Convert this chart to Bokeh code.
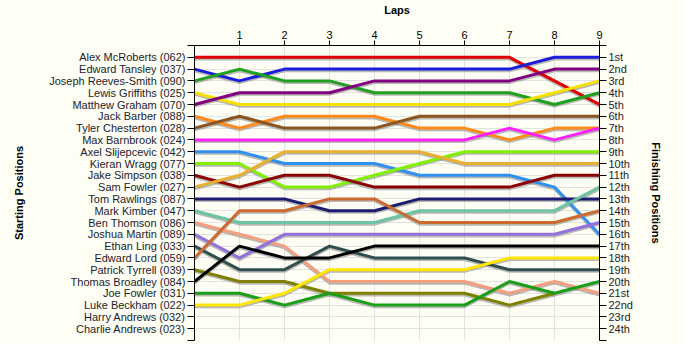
from bokeh.plotting import figure
from bokeh.models import Range1d, LinearAxis, FixedTicker
from bokeh.embed import file_html
from bokeh.resources import INLINE

laps = [0, 1, 2, 3, 4, 5, 6, 7, 8, 9]

drivers = [
    "Alex McRoberts (062)", "Edward Tansley (037)", "Joseph Reeves-Smith (090)",
    "Lewis Griffiths (025)", "Matthew Graham (070)", "Jack Barber (088)",
    "Tyler Chesterton (028)", "Max Barnbrook (024)", "Axel Slijepcevic (042)",
    "Kieran Wragg (077)", "Jake Simpson (038)", "Sam Fowler (027)",
    "Tom Rawlings (087)", "Mark Kimber (047)", "Ben Thomson (086)",
    "Joshua Martin (089)", "Ethan Ling (033)", "Edward Lord (059)",
    "Patrick Tyrrell (039)", "Thomas Broadley (084)", "Joe Fowler (031)",
    "Luke Beckham (022)", "Harry Andrews (032)", "Charlie Andrews (023)",
]

finish_labels = ["1st", "2nd", "3rd", "4th", "5th", "6th", "7th", "8th", "9th", "10th",
                 "11th", "12th", "13th", "14th", "15th", "16th", "17th", "18th", "19th",
                 "20th", "21st", "22nd", "23rd", "24th"]

# positions by lap (lap 0 = start)
pos_mcroberts = [1, 1, 1, 1, 1, 1, 1, 1, 3, 5]
pos_tansley = [2, 3, 2, 2, 2, 2, 2, 2, 1, 1]
pos_reeves_smith = [3, 2, 3, 3, 4, 4, 4, 4, 5, 4]
pos_griffiths = [4, 5, 5, 5, 5, 5, 5, 5, 4, 3]
pos_graham = [5, 4, 4, 4, 3, 3, 3, 3, 2, 2]
pos_barber = [6, 7, 6, 6, 6, 7, 7, 8, 7, 7]
pos_chesterton = [7, 6, 7, 7, 7, 6, 6, 6, 6, 6]
pos_barnbrook = [8, 8, 8, 8, 8, 8, 8, 7, 8, 7]
pos_slijepcevic = [9, 9, 10, 10, 10, 11, 11, 11, 12, 16]
pos_wragg = [10, 10, 12, 12, 11, 10, 9, 9, 9, 9]
pos_simpson = [11, 12, 11, 11, 12, 12, 12, 12, 11, 11]
pos_sam_fowler = [12, 11, 9, 9, 9, 9, 10, 10, 10, 10]
pos_rawlings = [13, 13, 13, 14, 14, 13, 13, 13, 13, 13]
pos_kimber = [14, 15, 15, 15, 15, 14, 14, 14, 14, 12]
pos_thomson = [15, 16, 17, 20, 20, 20, 20, 21, 20, 21]
pos_martin = [16, 18, 16, 16, 16, 16, 16, 16, 16, 15]
pos_ling = [17, 19, 19, 17, 18, 18, 18, 19, 19, 19]
pos_lord = [18, 14, 14, 13, 13, 15, 15, 15, 15, 14]
pos_tyrrell = [19, 20, 20, 21, 21, 21, 21, 22, 21]
pos_broadley = [20, 17, 18, 18, 17, 17, 17, 17, 17, 17]
pos_joe_fowler = [21, 21, 22, 21, 22, 22, 22, 20, 21, 20]
pos_beckham = [22, 22, 21, 19, 19, 19, 19, 18, 18, 18]
pos_h_andrews = []
pos_c_andrews = []

all_positions = [pos_mcroberts, pos_tansley, pos_reeves_smith, pos_griffiths, pos_graham,
                 pos_barber, pos_chesterton, pos_barnbrook, pos_slijepcevic, pos_wragg,
                 pos_simpson, pos_sam_fowler, pos_rawlings, pos_kimber, pos_thomson,
                 pos_martin, pos_ling, pos_lord, pos_tyrrell, pos_broadley, pos_joe_fowler,
                 pos_beckham, pos_h_andrews, pos_c_andrews]

colors = ["#e00000", "#1c1cdc", "#20a020", "#f5e000", "#800080",
          "#ff8a1a", "#8a5520", "#ff20ff", "#3090f0", "#80f000",
          "#8b0000", "#e8b030", "#1c1c70", "#6cc4a4", "#f4a080",
          "#9370db", "#2f4f4f", "#cd6a30", "#808000", "#000000", "#1a9e1a",
          "#ffe600", "#999999", "#999999"]

BG = "#fefef4"
FONT = "Liberation Sans"
TXT = "#1c1c2c"

n = len(drivers)

p = figure(width=684, height=344, x_range=Range1d(0, 9), y_range=Range1d(n + 1, 0),
           output_backend="svg", toolbar_location=None, x_axis_location="above",
           min_border_left=194, min_border_right=85, min_border_top=42, min_border_bottom=4)
p.background_fill_color = BG
p.border_fill_color = BG
p.outline_line_color = None

# grids
p.xgrid.ticker = FixedTicker(ticks=laps[1:])
p.ygrid.ticker = FixedTicker(ticks=list(range(1, n + 2)))
p.xgrid.grid_line_color = "#e2e2e2"
p.ygrid.grid_line_color = "#e2e2e2"

# top axis
xa = p.xaxis[0]
xa.ticker = FixedTicker(ticks=laps[1:])
xa.axis_label = "Laps"
xa.axis_label_text_font = FONT
xa.axis_label_text_font_size = "11px"
xa.axis_label_text_font_style = "bold"
xa.axis_label_text_color = "#000000"
xa.axis_label_standoff = 12
xa.major_label_text_font = FONT
xa.major_label_text_font_size = "11px"
xa.major_label_text_color = "#000000"
xa.major_tick_out = 5
xa.major_tick_in = 0
xa.minor_tick_line_color = None
xa.major_label_standoff = 2
xa.axis_line_color = "#000000"

ticks_y = list(range(0, n + 2))

def style_yaxis(ax, labels, title, standoff):
    ax.ticker = FixedTicker(ticks=ticks_y)
    ov = {t: "" for t in ticks_y}
    for i, lab in enumerate(labels):
        ov[i + 1] = lab
    ax.major_label_overrides = ov
    ax.axis_label = title
    ax.axis_label_text_font = FONT
    ax.axis_label_text_font_size = "11px"
    ax.axis_label_text_font_style = "bold"
    ax.axis_label_text_color = "#000000"
    ax.axis_label_standoff = standoff
    ax.major_label_text_font = FONT
    ax.major_label_text_font_size = "11px"
    ax.major_label_text_color = TXT
    ax.major_tick_out = 7
    ax.major_tick_in = 0
    ax.minor_tick_line_color = None
    ax.major_label_standoff = 2
    ax.axis_line_color = "#000000"
    ax.major_tick_line_color = "#000000"

style_yaxis(p.yaxis[0], drivers, "Starting Positions", 21)

ra = LinearAxis()
style_yaxis(ra, finish_labels, "Finishing Positions", 14)
p.add_layout(ra, "right")

# lines with a soft shadow
for pos, col in zip(all_positions, colors):
    if not pos:
        continue
    xs = laps[:len(pos)]
    p.line(xs, [v + 0.14 for v in pos], line_color="#808080", line_alpha=0.55, line_width=3)
for pos, col in zip(all_positions, colors):
    if not pos:
        continue
    xs = laps[:len(pos)]
    p.line(xs, pos, line_color=col, line_width=3)

open("out.html", "w").write(file_html(p, INLINE))
